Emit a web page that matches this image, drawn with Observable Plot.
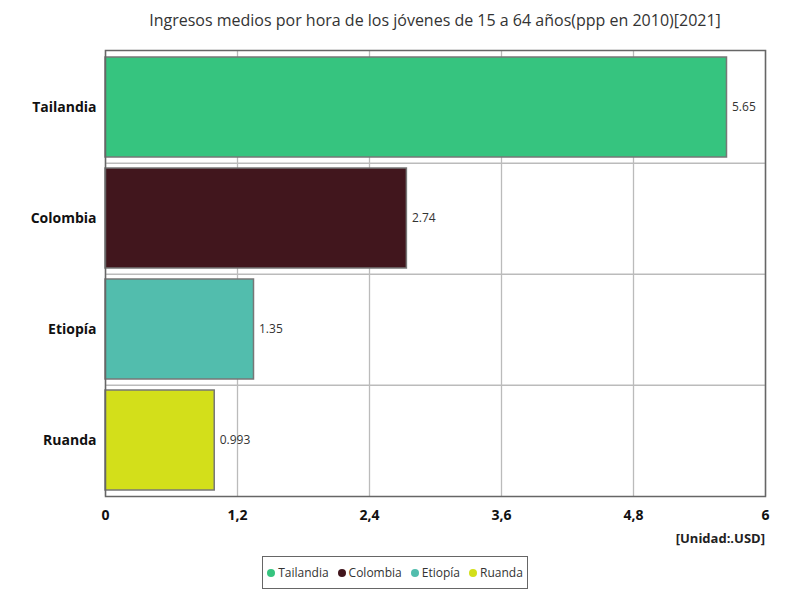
<!DOCTYPE html>
<html>
<head>
<meta charset="utf-8">
<script src="https://cdn.jsdelivr.net/npm/d3@7"></script>
<script src="https://cdn.jsdelivr.net/npm/@observablehq/plot@0.6"></script>
<style>
  body { margin: 0; background: #fff; font-family: "Open Sans", sans-serif; }
  #title { height: 44px; line-height: 41px; padding-left: 105px; width: 660px; text-align: center; font-size: 16px; color: #333; }
  #unit { width: 765px; text-align: right; font-size: 13px; font-weight: bold; height: 16px; line-height: 16px; color: #222; }
  #legend { margin: 10px 0 0 262px; width: 264px; height: 31px; border: 1px solid #666; display: flex; align-items: center; justify-content: center; gap: 9px; font-size: 12px; color: #333; }
  #legend span.dot { display: inline-block; width: 8px; height: 8px; border-radius: 50%; margin-right: 3px; }
</style>
</head>
<body>
<div id="title">Ingresos medios por hora de los jóvenes de 15 a 64 años(ppp en 2010)[2021]</div>
<div id="chart"></div>
<div id="unit">[Unidad:.USD]</div>
<div id="legend"></div>
<script>
const countries = ["Tailandia", "Colombia", "Etiopía", "Ruanda"]
const values = [5.65, 2.74, 1.35, 0.993]
const colors = ["#36c47f", "#41161d", "#52bdad", "#d3df1a"]
const xTicks = [0, 1.2, 2.4, 3.6, 4.8, 6]
const xTickLabels = ["0", "1,2", "2,4", "3,6", "4,8", "6"]

const data = countries.map((c, i) => ({pais: c, valor: values[i]}))

const marginTop = 6, marginBottom = 34, plotH = 446
const step = plotH / countries.length

const chart = Plot.plot({
  width: 800,
  height: marginTop + plotH + marginBottom,
  marginTop,
  marginBottom,
  marginLeft: 105,
  marginRight: 35,
  style: {fontFamily: "Open Sans, sans-serif"},
  x: {domain: [0, 6], ticks: xTicks, tickFormat: (d, i) => xTickLabels[i], tickSize: 0, tickPadding: 14, label: null},
  y: {domain: countries, paddingInner: 0.1, paddingOuter: 0.05, tickSize: 0, tickPadding: 9, label: null},
  color: {domain: countries, range: colors},
  marks: [
    Plot.ruleX(xTicks, {stroke: "#bbb", strokeWidth: 1.3}),
    Plot.ruleY(countries.slice(0, -1), {y: d => d, dy: step / 2, stroke: "#bbb", strokeWidth: 1.3}),
    Plot.barX(data, {x: "valor", y: "pais", fill: "pais", stroke: "#777", strokeWidth: 1.5}),
    Plot.text(data, {x: "valor", y: "pais", text: d => String(d.valor), textAnchor: "start", dx: 5, fontSize: 12, fill: "#333"}),
    Plot.frame({stroke: "#666", strokeWidth: 1.5}),
    Plot.axisX({ticks: xTicks, tickFormat: (d, i) => xTickLabels[i], tickSize: 0, tickPadding: 14, fontSize: 14, fontWeight: "bold", fill: "#111"}),
    Plot.axisY({tickSize: 0, tickPadding: 9, fontSize: 14, fontWeight: "bold", fill: "#111"})
  ]
})
d3.select("#chart").append(() => chart)

const legend = d3.select("#legend")
countries.forEach((c, i) => {
  const item = legend.append("div")
  item.append("span").attr("class", "dot").style("background", colors[i])
  item.append("span").text(c)
})
</script>
</body>
</html>
